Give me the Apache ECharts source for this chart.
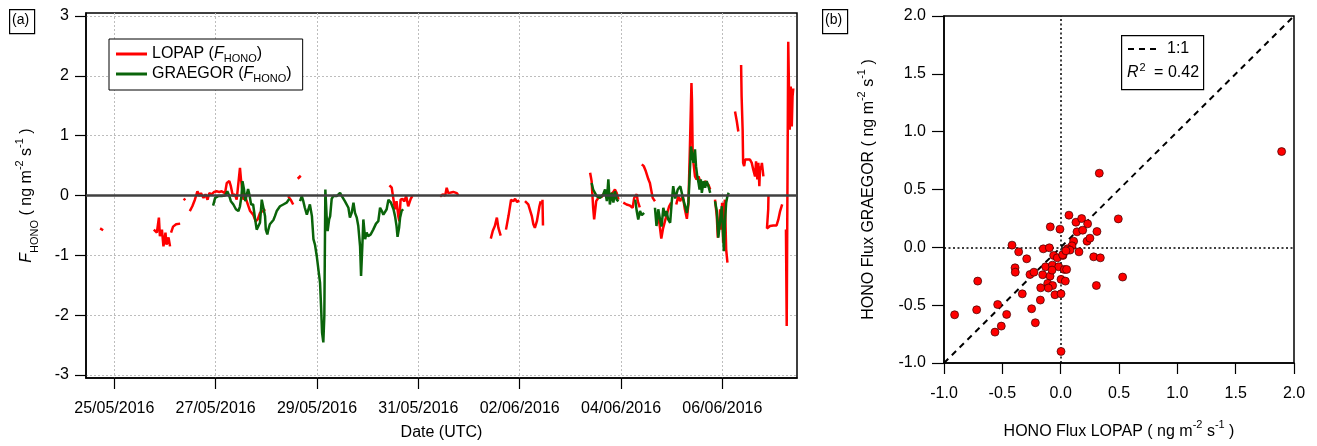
<!DOCTYPE html>
<html>
<head>
<meta charset="utf-8">
<script src="https://cdn.jsdelivr.net/npm/echarts@6/dist/echarts.min.js"></script>
<style>
html,body{margin:0;padding:0;background:#fff;}
#c{width:1317px;height:446px;}
</style>
</head>
<body>
<div id="c"></div>
<script>
// ---------- DATA ----------
// x of panel (a): days since 25/05/2016 00:00 UTC
const dayOrigin = Date.UTC(2016, 4, 25);
const xTickDays = [0, 2, 4, 6, 8, 10, 12];
const yTicksA = [-3, -2, -1, 0, 1, 2, 3];

const lopapSegments = [
  [[-0.28,-0.55],[-0.22,-0.58]],
  [[0.78,-0.57],[0.84,-0.62],[0.88,-0.37],[0.90,-0.68],[0.94,-0.57],[0.97,-0.85],[1.01,-0.62],[1.03,-0.82],[1.07,-0.70],[1.10,-0.85]],
  [[1.12,-0.62],[1.16,-0.52],[1.22,-0.48],[1.30,-0.47]],
  [[1.37,-0.05],[1.40,-0.08]],
  [[1.49,-0.26],[1.54,-0.18],[1.59,-0.07],[1.64,0.07],[1.68,-0.01],[1.71,0.04],[1.76,-0.04],[1.80,0.02],[1.84,-0.07],[1.875,0.04],[1.92,0.02],[1.97,0.06],[2.02,0.07],[2.07,0.06],[2.12,0.07],[2.185,0.04],[2.22,0.21],[2.27,0.24],[2.30,0.155],[2.34,-0.01],[2.38,0.02],[2.415,-0.07],[2.45,-0.08],[2.48,0.46],[2.50,0.27],[2.53,0.07],[2.55,-0.07],[2.58,-0.01],[2.61,-0.01],[2.68,-0.26],[2.74,-0.32],[2.79,-0.43],[2.83,-0.40],[2.875,-0.29],[2.93,-0.26],[2.98,-0.23]],
  [[3.43,-0.01],[3.48,-0.07],[3.53,-0.15]],
  [[3.62,0.28],[3.68,0.33]],
  [[5.43,0.17],[5.475,0.13],[5.51,-0.07],[5.54,-0.23],[5.57,-0.095],[5.605,-0.345],[5.625,-0.43],[5.65,-0.07],[5.69,-0.055],[5.72,-0.10],[5.76,-0.01],[5.80,-0.18],[5.85,-0.055],[5.88,-0.01]],
  [[6.43,-0.02],[6.48,0.02],[6.53,0.0],[6.56,0.13],[6.59,0.04],[6.625,0.06],[6.69,0.06],[6.76,0.04],[6.79,0.0]],
  [[7.43,-0.72],[7.47,-0.59],[7.51,-0.51],[7.55,-0.37],[7.58,-0.54],[7.625,-0.67]],
  [[7.73,-0.57],[7.78,-0.34],[7.83,-0.07],[7.875,-0.095],[7.91,-0.055],[7.95,-0.11],[7.99,-0.08]],
  [[8.105,-0.095],[8.17,-0.15],[8.20,-0.18],[8.24,-0.345],[8.27,-0.48],[8.30,-0.54],[8.34,-0.43],[8.39,-0.18],[8.415,-0.095]],
  [[8.45,-0.07],[8.46,-0.50]],
  [[9.39,0.38],[9.42,0.24],[9.45,-0.205],[9.47,-0.40],[9.51,-0.095],[9.56,-0.03],[9.62,-0.02],[9.68,0.05],[9.74,0.0],[9.80,0.02],[9.85,0.06],[9.88,0.10],[9.915,0.04],[9.95,-0.07]],
  [[10.045,-0.12],[10.11,-0.15],[10.18,-0.17],[10.23,-0.205],[10.26,-0.04],[10.31,0.02],[10.33,-0.095],[10.37,-0.20]],
  [[10.41,0.52],[10.45,0.49],[10.49,0.405],[10.54,0.27],[10.57,0.21],[10.625,-0.04],[10.67,-0.095]],
  [[10.72,-0.30],[10.76,-0.48],[10.795,-0.72],[10.83,-0.55],[10.87,-0.42],[10.91,-0.30],[10.95,-0.18],[10.99,-0.12]],
  [[11.09,-0.15],[11.13,-0.01],[11.165,-0.095],[11.22,-0.01],[11.26,-0.23],[11.30,-0.39],[11.33,-0.15],[11.36,0.82],[11.39,1.88],[11.40,1.60],[11.415,0.655],[11.46,0.32],[11.49,0.27],[11.53,0.32],[11.56,0.24],[11.595,0.21],[11.63,0.155],[11.66,0.24],[11.69,0.21],[11.725,0.18],[11.76,0.10]],
  [[11.855,-0.07],[11.89,-0.345],[11.91,-0.705],[11.94,-0.455],[11.955,-0.23],[11.975,-0.57],[11.995,-0.12],[12.015,-0.79],[12.035,-0.23],[12.05,-0.07],[12.075,-0.90],[12.10,-1.12]],
  [[12.25,1.405],[12.285,1.24],[12.315,1.07]],
  [[12.37,2.18],[12.38,1.655],[12.40,1.10],[12.41,0.545],[12.43,0.49],[12.45,0.60],[12.47,0.63],[12.545,0.60],[12.58,0.545],[12.61,0.43],[12.645,0.32],[12.665,0.57],[12.69,0.27],[12.71,0.545],[12.73,0.155],[12.745,0.49],[12.76,0.43],[12.78,0.545],[12.81,0.32]],
  [[12.91,-0.01],[12.905,-0.23],[12.88,-0.55],[12.94,-0.51],[13.005,-0.50],[13.07,-0.50],[13.105,-0.40],[13.14,-0.26],[13.18,-0.15]],
  [[13.255,-0.57],[13.27,-2.18],[13.30,2.57],[13.315,1.77],[13.33,1.10],[13.35,1.82],[13.37,1.155],[13.385,1.655],[13.40,1.79]]
];

const graegorSegments = [
  [[1.95,-0.17],[1.99,-0.04],[2.05,-0.01],[2.12,-0.01],[2.185,0.0],[2.23,0.07],[2.27,-0.01],[2.30,-0.095],[2.35,-0.15],[2.40,-0.23],[2.45,-0.26],[2.48,-0.18],[2.51,-0.01],[2.53,0.24],[2.56,0.10],[2.585,-0.095],[2.61,-0.07],[2.64,0.11],[2.665,0.02],[2.70,-0.15],[2.74,-0.15],[2.78,-0.40],[2.81,-0.57],[2.84,-0.555],[2.875,-0.455],[2.91,-0.07],[2.93,-0.04],[2.955,-0.26],[2.975,-0.345],[2.99,-0.57],[3.02,-0.65],[3.04,-0.57],[3.07,-0.48],[3.105,-0.48],[3.14,-0.41],[3.17,-0.345],[3.205,-0.26],[3.27,-0.18],[3.335,-0.15],[3.40,-0.12],[3.455,-0.055]],
  [[3.665,-0.095],[3.70,-0.01],[3.73,-0.095],[3.76,-0.205],[3.80,-0.32],[3.83,-0.345],[3.86,-0.15],[3.90,-0.345],[3.93,-0.73],[3.96,-0.82],[3.995,-1.01],[4.03,-1.04],[4.06,-1.455],[4.08,-1.845],[4.10,-2.29],[4.125,-2.455],[4.145,-2.01],[4.165,0.10],[4.19,-0.345],[4.21,-0.595],[4.24,-0.40],[4.26,-0.345],[4.29,-0.055],[4.32,-0.01],[4.39,-0.01],[4.455,0.045],[4.49,-0.01],[4.55,-0.095],[4.62,-0.205],[4.65,-0.37],[4.685,-0.29],[4.72,-0.12],[4.75,-0.29],[4.785,-0.37],[4.815,-0.51],[4.85,-0.845],[4.87,-1.345],[4.895,-0.845],[4.915,-0.40],[4.95,-0.73],[4.98,-0.62],[5.01,-0.68],[5.06,-0.65],[5.11,-0.57],[5.165,-0.47],[5.21,-0.43],[5.245,-0.205],[5.28,-0.26],[5.31,-0.32],[5.34,-0.32],[5.375,-0.23],[5.41,-0.07],[5.46,-0.12],[5.51,-0.23],[5.54,-0.345],[5.57,-0.51],[5.59,-0.69],[5.62,-0.54],[5.64,-0.37],[5.67,-0.26],[5.70,-0.23]],
  [[9.42,0.21],[9.45,0.10],[9.52,-0.01],[9.585,-0.04],[9.65,0.02],[9.685,0.10],[9.72,-0.095],[9.75,0.27],[9.78,-0.15],[9.82,0.045],[9.85,-0.12],[9.88,0.07],[9.915,-0.07],[9.95,-0.095]],
  [[10.28,-0.07],[10.31,-0.26],[10.34,-0.40],[10.375,-0.26],[10.41,-0.33],[10.455,-0.29]],
  [[10.67,-0.205],[10.70,-0.51],[10.735,-0.23],[10.77,-0.40],[10.80,-0.52],[10.835,-0.205],[10.87,-0.345],[10.90,-0.26],[10.93,-0.40],[10.97,-0.455],[11.0,-0.12],[11.03,0.155],[11.07,-0.05],[11.12,0.10],[11.17,0.155],[11.23,-0.07],[11.30,-0.29],[11.33,-0.12],[11.36,0.43],[11.38,0.82],[11.41,0.655],[11.43,0.545],[11.46,0.77],[11.48,0.49],[11.505,0.32],[11.53,0.21],[11.55,0.10],[11.575,0.27],[11.595,0.045],[11.63,0.24],[11.66,0.13],[11.69,0.24],[11.725,0.155],[11.76,0.045]],
  [[11.855,-0.095],[11.89,-0.26],[11.92,-0.705],[11.955,-0.43],[11.99,-0.18],[12.01,-0.57],[12.03,-0.93],[12.05,-0.455],[12.075,-0.12],[12.10,-0.01],[12.125,0.045]]
];

// panel (b): HONO flux LOPAP (x) vs GRAEGOR (y), ng m-2 s-1
const scatterLopap = [1.894,0.331,0.494,0.531,0.306,0.071,-0.089,-0.006,0.131,0.18,0.231,0.14,0.189,0.311,0.111,0.226,0.251,0.097,0.057,0.08,0.157,0.283,0.34,-0.417,-0.36,-0.149,-0.097,-0.291,-0.06,-0.029,0.02,-0.391,-0.389,-0.129,-0.071,-0.017,0.031,0.051,-0.263,-0.229,-0.154,-0.091,-0.074,0.003,0.04,-0.111,-0.069,-0.106,-0.171,-0.329,-0.049,0.003,-0.711,-0.174,-0.54,-0.249,-0.72,-0.463,-0.909,-0.217,-0.509,-0.563,0.003,0.017,0.045];
const scatterGraegor = [0.828,0.641,0.246,-0.257,-0.33,0.278,0.177,0.157,0.217,0.249,0.203,0.134,0.148,0.137,0.053,0.053,0.079,0.013,-0.013,-0.024,-0.039,-0.082,-0.091,0.019,-0.039,-0.013,-0.004,-0.099,-0.07,-0.091,-0.07,-0.177,-0.215,-0.168,-0.154,-0.168,-0.191,-0.191,-0.235,-0.215,-0.237,-0.249,-0.197,-0.277,-0.292,-0.312,-0.33,-0.352,-0.35,-0.402,-0.41,-0.402,-0.292,-0.456,-0.494,-0.531,-0.54,-0.58,-0.583,-0.652,-0.681,-0.733,-0.9,-0.064,-0.03];
const oneToOne = [-1, 2];
const r2Text = '0.42';

// ---------- CHART ----------
const FONT = '"Liberation Sans", Arial, sans-serif';
const RED = '#ff0000';
const GREEN = '#0a640a';

function joinSegments(segs) {
  const out = [];
  segs.forEach((s, i) => {
    s.forEach(p => out.push(p));
    if (i < segs.length - 1) out.push([s[s.length - 1][0], null]);
  });
  return out;
}
function pad2(n) { return (n < 10 ? '0' : '') + n; }
function dayLabel(v) {
  const d = new Date(dayOrigin + Math.round(v * 86400000));
  return pad2(d.getUTCDate()) + '/' + pad2(d.getUTCMonth() + 1) + '/' + d.getUTCFullYear();
}

const unitRich = {
  n: { fontSize: 16, fontFamily: FONT, color: '#000', lineHeight: 26 },
  i: { fontSize: 16, fontFamily: FONT, color: '#000', fontStyle: 'italic', lineHeight: 26 },
  sub: { fontSize: 11, fontFamily: FONT, color: '#000', verticalAlign: 'bottom', lineHeight: 14 },
  sup: { fontSize: 11, fontFamily: FONT, color: '#000', verticalAlign: 'top', lineHeight: 14 }
};

const chart = echarts.init(document.getElementById('c'), null, { renderer: 'canvas' });

const lineAx = { show: true, onZero: false, lineStyle: { color: '#000', width: 1.5 } };
const tickStyle = { color: '#000', width: 1.2 };

const option = {
  animation: false,
  backgroundColor: '#fff',
  textStyle: { fontFamily: FONT },
  grid: [
    { left: 86, right: 520, top: 13, bottom: 67, show: true, borderColor: '#000', borderWidth: 1.5, backgroundColor: 'transparent' },
    { left: 944, right: 23, top: 16, bottom: 83, show: true, borderColor: '#000', borderWidth: 1.5, backgroundColor: 'transparent' }
  ],
  legend: {
    data: ['LOPAP', 'GRAEGOR'],
    orient: 'vertical',
    left: 109, top: 39,
    padding: [7, 11, 6, 7],
    itemGap: 2,
    itemWidth: 31, itemHeight: 3,
    itemTextGap: 8,
    icon: 'rect',
    borderColor: '#000', borderWidth: 1,
    backgroundColor: '#fff',
    formatter: function (name) { return '{n|' + name + ' (}{i|F}{sub|HONO}{n|)}'; },
    textStyle: { rich: {
      n: { fontSize: 16, fontFamily: FONT, color: '#000', lineHeight: 20 },
      i: { fontSize: 16, fontFamily: FONT, color: '#000', fontStyle: 'italic', lineHeight: 20 },
      sub: { fontSize: 11, fontFamily: FONT, color: '#000', verticalAlign: 'bottom', lineHeight: 12 }
    } }
  },
  xAxis: [
    {
      type: 'value', gridIndex: 0, min: -0.5585, max: 13.473,
      axisLine: lineAx,
      axisTick: { show: true, length: 11, customValues: xTickDays, lineStyle: tickStyle },
      axisLabel: { color: '#000', fontSize: 16, fontFamily: FONT, margin: 23, customValues: xTickDays, formatter: dayLabel },
      splitLine: { show: true, lineStyle: { color: '#bdbdbd', width: 1, type: [2, 2] } },
      name: 'Date (UTC)', nameLocation: 'middle', nameGap: 47,
      nameTextStyle: { color: '#000', fontSize: 16, fontFamily: FONT }
    },
    {
      type: 'value', gridIndex: 1, min: -1, max: 2, interval: 0.5,
      axisLine: lineAx,
      axisTick: { show: true, length: 11, lineStyle: tickStyle },
      axisLabel: { color: '#000', fontSize: 16, fontFamily: FONT, margin: 23, formatter: v => v.toFixed(1) },
      splitLine: { show: false },
      name: '{n|HONO Flux LOPAP ( ng m}{sup|-2}{n| s}{sup|-1}{n| )}', nameLocation: 'middle', nameGap: 56,
      nameTextStyle: { rich: unitRich }
    }
  ],
  yAxis: [
    {
      type: 'value', gridIndex: 0, min: -3.05, max: 3.05,
      axisLine: lineAx,
      axisTick: { show: true, length: 11, customValues: yTicksA, lineStyle: tickStyle },
      axisLabel: { color: '#000', fontSize: 16, fontFamily: FONT, margin: 17, customValues: yTicksA },
      splitLine: { show: true, lineStyle: { color: '#bdbdbd', width: 1, type: [2, 2] } },
      name: '{i|F}{sub|HONO}{n| ( ng m}{sup|-2}{n| s}{sup|-1}{n| )}', nameLocation: 'middle', nameGap: 46, nameRotate: 90,
      nameTextStyle: { rich: unitRich }
    },
    {
      type: 'value', gridIndex: 1, min: -1, max: 2, interval: 0.5,
      axisLine: lineAx,
      axisTick: { show: true, length: 12, lineStyle: tickStyle },
      axisLabel: { color: '#000', fontSize: 16, fontFamily: FONT, margin: 18, formatter: v => v.toFixed(1) },
      splitLine: { show: false },
      name: '{n|HONO Flux GRAEGOR ( ng m}{sup|-2}{n| s}{sup|-1}{n| )}', nameLocation: 'middle', nameGap: 62, nameRotate: 90,
      nameTextStyle: { rich: unitRich }
    }
  ],
  series: [
    {
      name: 'LOPAP', type: 'line', xAxisIndex: 0, yAxisIndex: 0,
      data: joinSegments(lopapSegments), showSymbol: false, symbol: 'none', connectNulls: false,
      lineStyle: { color: RED, width: 2.5 }, itemStyle: { color: RED }, z: 3,
      markLine: {
        silent: true, symbol: ['none', 'none'], label: { show: false },
        lineStyle: { color: '#404040', width: 2.5, type: 'solid' },
        data: [{ yAxis: 0 }]
      }
    },
    {
      name: 'GRAEGOR', type: 'line', xAxisIndex: 0, yAxisIndex: 0,
      data: joinSegments(graegorSegments), showSymbol: false, symbol: 'none', connectNulls: false,
      lineStyle: { color: GREEN, width: 2.5 }, itemStyle: { color: GREEN }, z: 4
    },
    {
      name: '1:1', type: 'line', xAxisIndex: 1, yAxisIndex: 1,
      data: [[oneToOne[0], oneToOne[0]], [oneToOne[1], oneToOne[1]]],
      showSymbol: false, symbol: 'none',
      lineStyle: { color: '#000', width: 2, type: [6, 5] }, z: 2,
      markLine: {
        silent: true, symbol: ['none', 'none'], label: { show: false },
        lineStyle: { color: '#000', width: 1.5, type: [2, 2.5] },
        data: [{ xAxis: 0 }, { yAxis: 0 }]
      }
    },
    {
      name: 'pairs', type: 'scatter', xAxisIndex: 1, yAxisIndex: 1,
      data: scatterLopap.map((x, i) => [x, scatterGraegor[i]]),
      symbolSize: 8,
      itemStyle: { color: RED, borderColor: '#3a0000', borderWidth: 0.7, opacity: 1 },
      z: 5
    }
  ],
  graphic: [
    { type: 'rect', left: 9, top: 9, shape: { width: 25, height: 24 }, style: { fill: '#fff', stroke: '#000', lineWidth: 1.2 } },
    { type: 'text', left: 12, top: 13, style: { text: '(a)', font: '14px ' + FONT, fill: '#000' } },
    { type: 'rect', left: 822, top: 9, shape: { width: 25, height: 24 }, style: { fill: '#fff', stroke: '#000', lineWidth: 1.2 } },
    { type: 'text', left: 825, top: 13, style: { text: '(b)', font: '14px ' + FONT, fill: '#000' } },
    { type: 'rect', left: 1121, top: 35, z: 10, shape: { width: 82, height: 54 }, style: { fill: '#fff', stroke: '#000', lineWidth: 1.2 } },
    { type: 'line', z: 11, shape: { x1: 1128, y1: 49, x2: 1160, y2: 49 }, style: { stroke: '#000', lineWidth: 2, lineDash: [6, 5] } },
    { type: 'text', z: 11, left: 1167, top: 41, style: { text: '1:1', font: '16px ' + FONT, fill: '#000' } },
    { type: 'text', z: 11, left: 1127, top: 62, style: {
      text: '{i|R}{sup|2}{n| = ' + r2Text + '}',
      rich: {
        i: { fontSize: 16, fontFamily: FONT, fontStyle: 'italic', fill: '#000', lineHeight: 22 },
        sup: { fontSize: 11, fontFamily: FONT, fill: '#000', verticalAlign: 'top', lineHeight: 12, padding: [0, 4, 0, 1] },
        n: { fontSize: 16, fontFamily: FONT, fill: '#000', lineHeight: 22 }
      } } }
  ]
};
chart.setOption(option);
</script>
</body>
</html>
